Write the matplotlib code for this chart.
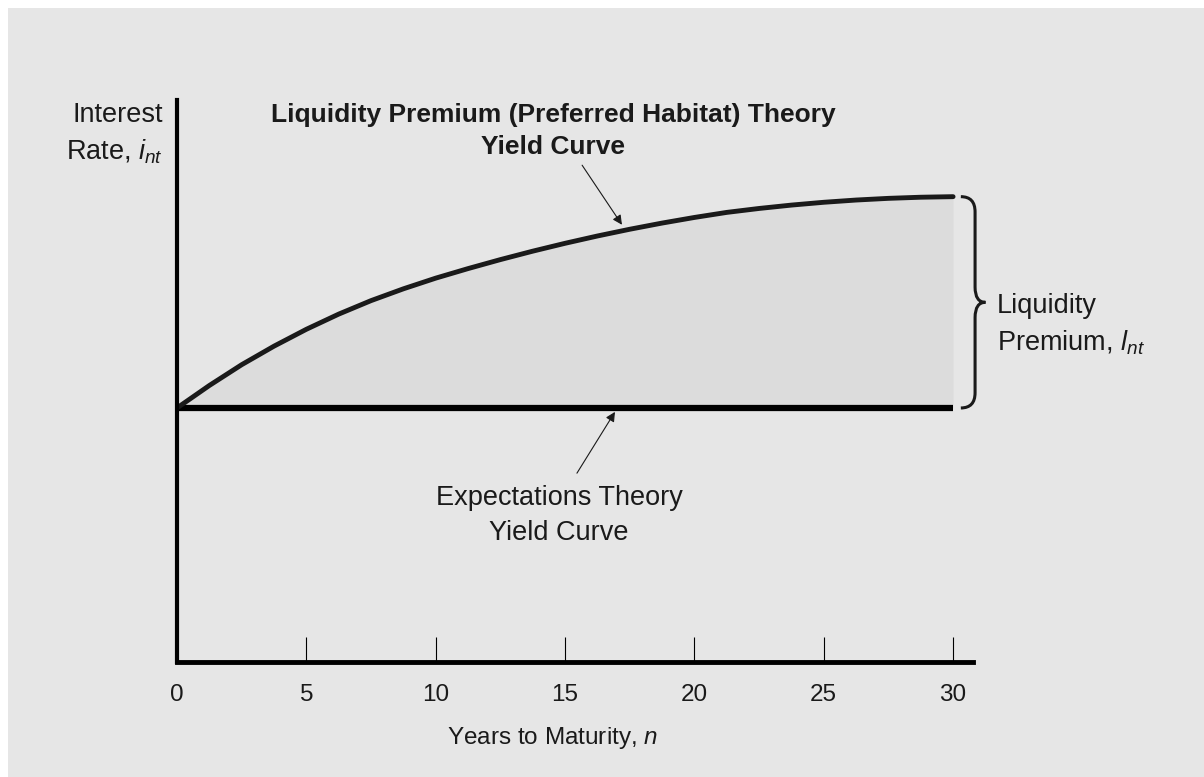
import matplotlib.pyplot as plt
import matplotlib.patches as mpatches
from matplotlib.path import Path

# values (arbitrary rate units, axis 0..10)
years = [0, 1.25, 2.5, 3.75, 5, 6.25, 7.5, 8.75, 10, 11.25, 12.5, 13.75, 15,
         16.25, 17.5, 18.75, 20, 21.25, 22.5, 23.75, 25, 26.25, 27.5, 28.75, 30]
liquidity_curve = [4.52, 4.92, 5.29, 5.62, 5.92, 6.19, 6.43, 6.64, 6.83, 7.00, 7.16, 7.31, 7.45,
                   7.58, 7.70, 7.81, 7.91, 8.00, 8.07, 8.13, 8.18, 8.22, 8.25, 8.27, 8.28]
expectations_curve = [4.52, 4.52, 4.52, 4.52, 4.52, 4.52, 4.52, 4.52, 4.52, 4.52, 4.52, 4.52, 4.52,
                      4.52, 4.52, 4.52, 4.52, 4.52, 4.52, 4.52, 4.52, 4.52, 4.52, 4.52, 4.52]
tick_years = [0, 5, 10, 15, 20, 25, 30]

plt.rcParams['font.family'] = ['Liberation Sans', 'DejaVu Sans']
plt.rcParams['mathtext.fontset'] = 'custom'
plt.rcParams['mathtext.rm'] = 'Liberation Sans'
plt.rcParams['mathtext.it'] = 'Liberation Sans:italic'
plt.rcParams['text.color'] = '#1a1a1a'

W, H = 1204, 777
fig = plt.figure(figsize=(W / 100, H / 100), dpi=100, facecolor='white')
fig.add_artist(mpatches.Rectangle((8 / W, 0), 1, 1 - 8 / H, transform=fig.transFigure,
                                  facecolor='#e6e6e6', edgecolor='none', zorder=-10))

ax = fig.add_axes([177 / W, 115 / H, 796 / W, 562 / H])
ax.set_facecolor('none')
ax.set_xlim(0, 30.77)
ax.set_ylim(0, 10)

for s in ['top', 'right']:
    ax.spines[s].set_visible(False)
ax.spines['left'].set_linewidth(3)
ax.spines['bottom'].set_linewidth(3.5)
ax.set_yticks([])
ax.set_xticks(tick_years)
ax.tick_params(axis='x', direction='in', length=18, width=0.8, pad=16, labelsize=17.5, colors='black')
for lab in ax.get_xticklabels():
    lab.set_color('#1a1a1a')

# shaded premium area and the two yield curves
ax.fill_between(years, expectations_curve, liquidity_curve, color='#dcdcdc', lw=0)
ax.plot(years, expectations_curve, color='black', lw=4.5, solid_capstyle='butt')
ax.plot(years, liquidity_curve, color='#1a1a1a', lw=3.5, solid_capstyle='round',
        solid_joinstyle='round')

# labels
ax.text(14.53, 9.95, 'Liquidity Premium (Preferred Habitat) Theory\nYield Curve',
        ha='center', va='top', fontsize=19, fontweight='bold', linespacing=1.45)
ax.annotate('', xy=(17.2, 7.78), xytext=(15.66, 8.84),
            arrowprops=dict(arrowstyle='-|>', color='#1a1a1a', lw=0.8, mutation_scale=14,
                            shrinkA=0, shrinkB=0))

ax.text(14.77, 3.15, 'Expectations Theory\nYield Curve', ha='center', va='top',
        fontsize=19.5, linespacing=1.45)
ax.annotate('', xy=(16.93, 4.45), xytext=(15.46, 3.36),
            arrowprops=dict(arrowstyle='-|>', color='#1a1a1a', lw=0.8, mutation_scale=14,
                            shrinkA=0, shrinkB=0))

ax.text(-0.54, 9.97, 'Interest\nRate, $i_{nt}$', ha='right', va='top',
        multialignment='right', fontsize=19.5, linespacing=1.45)
ax.text(14.53, -1.35, 'Years to Maturity, $n$', ha='center', va='center', fontsize=17.5)

# brace for the liquidity premium
top, bot = liquidity_curve[-1], expectations_curve[-1]
mid = (top + bot) / 2
x0, x1, xt, r = 30.3, 30.85, 31.25, 0.27
verts = [(x0, top), (x1, top), (x1, top - r), (x1, mid + r), (x1, mid), (xt, mid),
         (x1, mid), (x1, mid - r), (x1, bot + r), (x1, bot), (x0, bot)]
codes = [Path.MOVETO, Path.CURVE3, Path.CURVE3, Path.LINETO, Path.CURVE3, Path.CURVE3,
         Path.CURVE3, Path.CURVE3, Path.LINETO, Path.CURVE3, Path.CURVE3]
ax.add_patch(mpatches.PathPatch(Path(verts, codes), facecolor='none', edgecolor='#1a1a1a',
                                lw=2.2, clip_on=False))
ax.text(31.7, 6.57, 'Liquidity\nPremium, $l_{nt}$', ha='left', va='top',
        fontsize=19.5, linespacing=1.45)

fig.savefig('out.png', dpi=100, facecolor=fig.get_facecolor())
